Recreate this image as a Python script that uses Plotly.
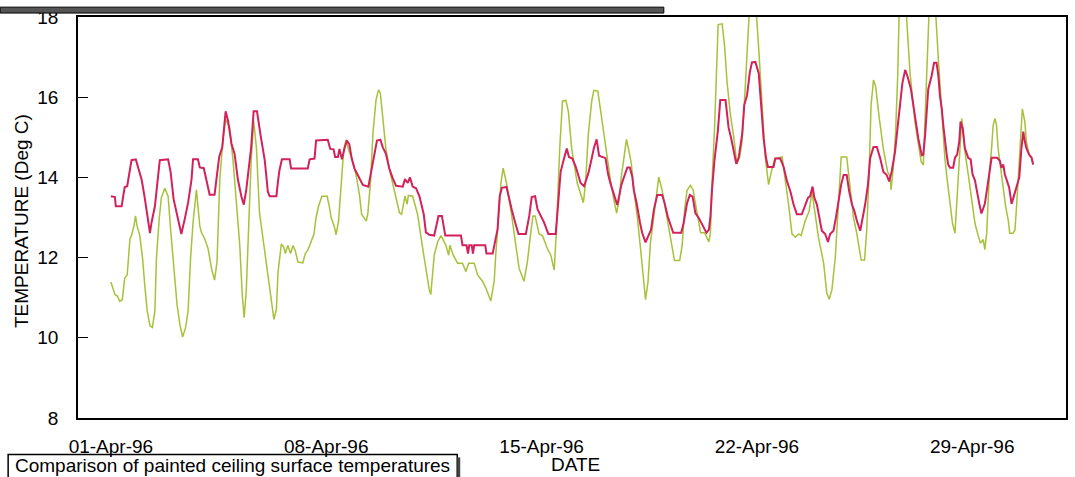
import pandas as pd
import plotly.graph_objects as go

# Hourly logger readings, April 1996: (days since 01-Apr-96 00:00, temperature in deg C)
START = pd.Timestamp("1996-04-01")

red_readings = [
    (0.00, 13.53), (0.13, 13.51), (0.16, 13.28), (0.35, 13.28), (0.40, 13.53), (0.45, 13.76),
    (0.53, 13.78), (0.59, 14.02), (0.67, 14.43), (0.81, 14.45), (0.89, 14.26), (1.00, 13.94),
    (1.10, 13.49), (1.19, 13.08), (1.27, 12.61), (1.32, 12.87), (1.43, 13.28), (1.50, 13.78),
    (1.59, 14.43), (1.86, 14.45), (1.94, 14.14), (2.04, 13.45), (2.18, 12.96), (2.29, 12.59),
    (2.40, 12.96), (2.51, 13.37), (2.62, 13.94), (2.67, 14.45), (2.83, 14.45), (2.89, 14.25),
    (3.02, 14.23), (3.10, 13.94), (3.21, 13.57), (3.37, 13.57), (3.43, 13.94), (3.52, 14.51),
    (3.62, 14.75), (3.73, 15.65), (3.81, 15.41), (3.92, 14.84), (4.02, 14.59), (4.13, 13.94),
    (4.24, 13.53), (4.32, 13.32), (4.40, 13.69), (4.49, 14.26), (4.56, 14.75), (4.64, 15.65),
    (4.75, 15.65), (4.86, 15.08), (5.00, 14.43),
    (5.05, 14.06), (5.10, 13.65), (5.16, 13.53), (5.38, 13.53), (5.43, 13.89), (5.48, 14.18),
    (5.56, 14.45), (5.81, 14.45), (5.86, 14.22), (6.40, 14.22), (6.46, 14.45), (6.62, 14.47),
    (6.67, 14.92), (7.05, 14.94), (7.13, 14.71), (7.24, 14.70), (7.29, 14.51), (7.38, 14.51),
    (7.43, 14.71), (7.51, 14.45), (7.59, 14.71), (7.67, 14.92), (7.75, 14.83), (7.83, 14.47),
    (7.92, 14.22), (8.05, 14.02), (8.19, 13.81), (8.37, 13.77), (8.46, 14.14), (8.57, 14.55),
    (8.65, 14.92), (8.76, 14.94), (8.84, 14.75), (8.94, 14.59), (9.05, 14.22), (9.16, 13.98),
    (9.27, 13.79), (9.49, 13.77), (9.56, 13.96), (9.65, 13.86), (9.72, 14.00), (9.81, 13.77),
    (9.92, 13.73), (10.03, 13.53), (10.17, 13.08), (10.24, 12.63), (10.35, 12.57),
    (10.51, 12.55), (10.59, 12.88), (10.65, 13.04), (10.76, 13.04), (10.87, 12.55), (11.38, 12.55),
    (11.43, 12.31), (11.56, 12.31), (11.61, 12.10), (11.65, 12.31), (11.73, 12.31), (11.77, 12.10),
    (11.81, 12.31), (12.17, 12.31), (12.21, 12.10), (12.41, 12.10), (12.49, 12.39), (12.57, 12.71),
    (12.64, 13.53), (12.71, 13.74), (12.86, 13.76), (12.92, 13.53), (13.03, 13.20), (13.14, 12.88),
    (13.25, 12.59), (13.49, 12.59), (13.60, 13.04), (13.68, 13.51), (13.79, 13.53), (13.87, 13.20),
    (13.97, 13.04), (14.08, 12.88), (14.22, 12.59), (14.46, 12.59), (14.55, 13.45), (14.62, 14.14),
    (14.73, 14.47), (14.82, 14.72), (14.89, 14.51), (15.00, 14.47), (15.11, 14.27), (15.27, 13.86),
    (15.38, 13.78), (15.52, 14.10), (15.63, 14.47), (15.70, 14.73),
    (15.79, 14.95), (15.87, 14.54), (16.08, 14.48), (16.16, 14.09), (16.24, 13.85), (16.33, 13.64),
    (16.41, 13.44), (16.46, 13.31), (16.52, 13.52), (16.59, 13.80), (16.68, 14.01), (16.79, 14.25),
    (16.87, 14.25), (16.95, 14.01), (17.00, 13.68), (17.09, 13.36), (17.20, 12.87), (17.27, 12.62),
    (17.38, 12.38), (17.46, 12.54), (17.56, 12.70), (17.65, 13.19), (17.76, 13.56), (17.92, 13.56),
    (18.00, 13.36), (18.10, 13.03), (18.21, 12.78), (18.28, 12.62), (18.54, 12.62), (18.62, 12.87),
    (18.73, 13.36), (18.82, 13.56), (18.91, 13.52), (19.00, 13.11), (19.11, 12.99), (19.19, 12.87),
    (19.27, 12.78), (19.36, 12.62), (19.44, 12.70), (19.49, 13.03), (19.54, 13.68), (19.62, 14.42),
    (19.73, 15.15), (19.81, 15.93), (19.98, 15.93), (20.03, 15.56), (20.08, 15.24), (20.16, 14.99),
    (20.25, 14.66), (20.33, 14.34), (20.41, 14.50), (20.52, 15.07), (20.59, 15.81), (20.68, 16.05),
    (20.77, 16.62), (20.84, 16.87), (20.95, 16.88),
    (21.06, 16.59), (21.14, 15.78), (21.22, 14.96), (21.30, 14.47), (21.36, 14.26), (21.54, 14.26),
    (21.60, 14.47), (21.76, 14.47), (21.87, 14.26), (21.98, 13.90), (22.09, 13.65), (22.19, 13.33),
    (22.30, 13.08), (22.46, 13.08), (22.57, 13.33), (22.66, 13.49), (22.73, 13.53), (22.81, 13.77),
    (22.87, 13.49), (22.95, 13.33), (23.03, 13.00), (23.11, 12.67), (23.22, 12.59), (23.31, 12.39),
    (23.38, 12.59), (23.49, 12.67), (23.57, 13.00), (23.65, 13.41), (23.74, 13.82), (23.82, 14.06),
    (23.92, 14.06), (24.00, 13.65), (24.09, 13.33), (24.17, 13.16), (24.25, 12.92), (24.36, 12.67),
    (24.43, 12.92), (24.52, 13.33), (24.61, 13.82), (24.68, 14.47), (24.79, 14.76), (24.90, 14.76),
    (25.01, 14.47), (25.11, 14.14), (25.22, 14.06), (25.30, 13.90), (25.38, 14.14), (25.44, 14.39),
    (25.49, 14.63), (25.58, 15.29), (25.65, 15.86), (25.73, 16.35), (25.82, 16.68), (25.90, 16.51),
    (26.01, 16.19), (26.12, 15.61), (26.25, 14.96), (26.36, 14.55),
    (26.41, 14.57), (26.47, 15.06), (26.52, 15.71), (26.57, 16.20), (26.68, 16.53), (26.76, 16.86),
    (26.84, 16.86), (26.90, 16.53), (26.95, 16.04), (27.01, 15.71), (27.06, 15.30), (27.11, 14.90),
    (27.17, 14.57), (27.22, 14.32), (27.28, 14.24), (27.38, 14.24), (27.44, 14.49), (27.51, 14.57),
    (27.58, 14.90), (27.62, 15.39), (27.69, 15.22), (27.76, 14.73), (27.87, 14.49), (27.95, 14.45),
    (28.01, 14.08), (28.09, 13.92), (28.16, 13.59), (28.23, 13.34), (28.30, 13.10), (28.36, 13.26),
    (28.41, 13.34), (28.49, 13.75), (28.57, 14.24), (28.63, 14.49), (28.81, 14.49), (28.90, 14.41),
    (28.95, 14.24), (29.01, 14.32), (29.06, 14.08), (29.12, 13.92), (29.20, 13.75), (29.28, 13.34),
    (29.35, 13.51), (29.44, 13.75), (29.53, 14.00), (29.60, 14.73), (29.66, 15.14), (29.71, 14.90),
    (29.76, 14.73), (29.85, 14.57), (29.93, 14.49), (29.98, 14.32),
]

green_readings = [
    (0.00, 11.39), (0.07, 11.24), (0.13, 11.08), (0.21, 11.04), (0.29, 10.91), (0.37, 10.95),
    (0.45, 11.49), (0.53, 11.57), (0.62, 12.47), (0.67, 12.55), (0.75, 12.79), (0.80, 13.04),
    (0.85, 12.79), (0.94, 12.55), (1.03, 11.98), (1.10, 11.32), (1.18, 10.67), (1.27, 10.30),
    (1.35, 10.26), (1.43, 10.67), (1.48, 11.98), (1.57, 12.96), (1.64, 13.49), (1.75, 13.73),
    (1.86, 13.53), (1.94, 12.71), (2.04, 11.81), (2.15, 10.83), (2.24, 10.34), (2.33, 10.02),
    (2.43, 10.26), (2.51, 10.67), (2.59, 11.98), (2.67, 12.87), (2.78, 13.69), (2.89, 12.79),
    (2.94, 12.63), (3.05, 12.47), (3.16, 12.22), (3.27, 11.73), (3.37, 11.44), (3.45, 11.89),
    (3.54, 13.94), (3.64, 14.92), (3.73, 15.45), (3.86, 15.24), (3.97, 14.43), (4.08, 13.45),
    (4.19, 12.30), (4.27, 11.08), (4.33, 10.50), (4.40, 11.16), (4.49, 12.96), (4.56, 14.43),
    (4.64, 15.41), (4.73, 14.75), (4.83, 13.12), (5.00, 12.20), (5.16, 11.30), (5.30, 10.46),
    (5.38, 10.71), (5.43, 11.61), (5.54, 12.34), (5.62, 12.26), (5.67, 12.10), (5.75, 12.30),
    (5.84, 12.10), (5.92, 12.30), (5.99, 12.18), (6.08, 11.89), (6.24, 11.87), (6.32, 12.10),
    (6.40, 12.18), (6.51, 12.42), (6.60, 12.58), (6.67, 13.00), (6.75, 13.28), (6.86, 13.53),
    (7.03, 13.53), (7.11, 13.24), (7.16, 13.00), (7.27, 12.75), (7.32, 12.57), (7.40, 12.91),
    (7.48, 13.89), (7.57, 14.71), (7.65, 14.94), (7.72, 14.71), (7.83, 14.47), (7.97, 14.06),
    (8.08, 13.57), (8.15, 13.08), (8.30, 12.91), (8.35, 13.08), (8.44, 13.89), (8.52, 15.12),
    (8.62, 15.94), (8.70, 16.18), (8.76, 16.10), (8.84, 15.53), (8.94, 14.71), (9.05, 14.22),
    (9.21, 13.65), (9.38, 13.12), (9.45, 13.08), (9.56, 13.53), (9.63, 13.33), (9.67, 13.55),
    (9.81, 13.53), (9.97, 13.08), (10.13, 12.26), (10.35, 11.20), (10.40, 11.08),
    (10.51, 12.06), (10.62, 12.39), (10.73, 12.55), (10.89, 12.31), (10.98, 12.06), (11.02, 12.31),
    (11.13, 12.06), (11.27, 11.86), (11.43, 11.86), (11.54, 11.65), (11.63, 11.86), (11.81, 11.86),
    (11.92, 11.57), (12.08, 11.41), (12.19, 11.24), (12.35, 10.92), (12.46, 11.41), (12.51, 12.06),
    (12.60, 13.04), (12.68, 13.86), (12.75, 14.23), (12.86, 13.86), (13.00, 13.20), (13.14, 12.47),
    (13.27, 11.73), (13.43, 11.41), (13.54, 11.90), (13.65, 12.63), (13.72, 13.04), (13.79, 13.04),
    (13.92, 12.59), (14.03, 12.55), (14.19, 12.22), (14.30, 12.06), (14.41, 11.69), (14.48, 12.63),
    (14.59, 14.71), (14.68, 15.90), (14.79, 15.92), (14.87, 15.65), (14.98, 14.71), (15.16, 13.86),
    (15.30, 13.49), (15.36, 13.37), (15.43, 13.86), (15.52, 15.08), (15.63, 15.90),
    (15.70, 16.17), (15.83, 16.15), (15.92, 15.64), (16.03, 14.99), (16.14, 14.42), (16.24, 13.93),
    (16.35, 13.44), (16.44, 13.11), (16.52, 13.44), (16.59, 14.01), (16.68, 14.50), (16.76, 14.95),
    (16.84, 14.66), (16.92, 14.34), (17.00, 13.68), (17.11, 13.03), (17.22, 12.21), (17.30, 11.56),
    (17.38, 10.95), (17.46, 11.39), (17.54, 12.38), (17.65, 13.03), (17.74, 13.52), (17.81, 14.01),
    (17.92, 13.68), (18.03, 13.19), (18.14, 12.70), (18.25, 12.29), (18.32, 11.93), (18.49, 11.93),
    (18.57, 12.29), (18.65, 13.19), (18.73, 13.68), (18.84, 13.80), (18.93, 13.68), (19.00, 13.36),
    (19.08, 13.03), (19.17, 12.62), (19.30, 12.62), (19.44, 12.39), (19.49, 12.62), (19.54, 13.85),
    (19.62, 15.15), (19.68, 16.62), (19.74, 17.81), (19.87, 17.83), (19.95, 17.28), (20.03, 16.38),
    (20.14, 15.56), (20.25, 14.99), (20.35, 14.34), (20.44, 14.50), (20.52, 14.91), (20.59, 15.81),
    (20.68, 17.03), (20.74, 18.00), (20.80, 18.80), (20.92, 18.80), (21.00, 18.00),
    (21.06, 17.20), (21.27, 14.51), (21.38, 13.82), (21.47, 14.14), (21.58, 14.47), (21.82, 14.51),
    (21.92, 13.98), (22.03, 13.33), (22.14, 12.59), (22.25, 12.51), (22.36, 12.59), (22.44, 12.55),
    (22.57, 12.92), (22.70, 13.16), (22.79, 13.65), (22.87, 13.16), (23.00, 12.51), (23.17, 11.86),
    (23.27, 11.12), (23.35, 10.96), (23.44, 11.20), (23.55, 12.02), (23.65, 13.33), (23.74, 14.51),
    (23.92, 14.51), (24.00, 13.98), (24.14, 13.00), (24.25, 12.59), (24.39, 11.94), (24.50, 11.94),
    (24.57, 12.67), (24.65, 14.14), (24.71, 15.78), (24.79, 16.43), (24.86, 16.27), (24.97, 15.53),
    (25.11, 14.72), (25.25, 14.14), (25.33, 14.02), (25.36, 13.69), (25.44, 14.31), (25.51, 15.12),
    (25.58, 16.59), (25.62, 17.98), (25.68, 18.80), (25.80, 18.80), (25.87, 18.00), (25.98, 16.59),
    (26.14, 15.37), (26.34, 14.39), (26.41, 14.31),
    (26.50, 16.12), (26.57, 18.00), (26.62, 18.60), (26.74, 18.60), (26.82, 18.00), (26.90, 16.94),
    (27.01, 15.71), (27.11, 14.49), (27.19, 13.92), (27.28, 13.26), (27.36, 12.85), (27.44, 12.61),
    (27.49, 13.26), (27.55, 14.24), (27.60, 14.90), (27.66, 15.47), (27.71, 15.14), (27.76, 14.65),
    (27.87, 14.08), (27.95, 13.59), (28.01, 13.26), (28.09, 12.85), (28.20, 12.53), (28.27, 12.36),
    (28.36, 12.45), (28.41, 12.20), (28.47, 12.61), (28.52, 13.43), (28.57, 14.24), (28.63, 14.73),
    (28.68, 15.30), (28.74, 15.47), (28.79, 15.30), (28.84, 14.73), (28.92, 14.24), (29.01, 13.75),
    (29.09, 13.26), (29.17, 12.94), (29.22, 12.61), (29.33, 12.61), (29.39, 12.69), (29.44, 13.26),
    (29.49, 13.92), (29.55, 14.73), (29.60, 15.47), (29.63, 15.71), (29.71, 15.39), (29.76, 14.90),
    (29.85, 14.57), (29.93, 14.49), (29.98, 14.32),
]

tick_dates = ["1996-04-01", "1996-04-08", "1996-04-15", "1996-04-22", "1996-04-29"]
tick_labels = ["01-Apr-96", "08-Apr-96", "15-Apr-96", "22-Apr-96", "29-Apr-96"]
y_ticks = [8, 10, 12, 14, 16, 18]

RED = "#d2215b"
GREEN = "#a6c23a"
FONT = "Liberation Sans, Arial, sans-serif"

W, H = 1075, 477
L, R, T, B = 78, 7, 11, 59
PW, PH = W - L - R, H - T - B


def series(readings):
    days, temps = zip(*readings)
    return START + pd.to_timedelta(list(days), unit="D"), list(temps)


def px(x):
    return (x - L) / PW


def py(y):
    return (H - B - y) / PH


gx, gy = series(green_readings)
rx, ry = series(red_readings)

fig = go.Figure()
fig.add_trace(go.Scatter(x=gx, y=gy, mode="lines", line=dict(color=GREEN, width=1.5),
                         showlegend=False, hoverinfo="skip"))
fig.add_trace(go.Scatter(x=rx, y=ry, mode="lines", line=dict(color=RED, width=2),
                         showlegend=False, hoverinfo="skip"))

fig.update_layout(
    width=W, height=H,
    margin=dict(l=L, r=R, t=T, b=B, pad=0),
    paper_bgcolor="white", plot_bgcolor="white",
    font=dict(family=FONT, size=19, color="black"),
    xaxis=dict(
        type="date",
        range=["1996-03-30 22:20", "1996-05-02 01:10"],
        tickvals=tick_dates, ticktext=tick_labels,
        ticks="", showgrid=False, zeroline=False,
        showline=True, mirror=True, linecolor="black", linewidth=1.5,
        tickfont=dict(family=FONT, size=19, color="black"),
        ticklabelstandoff=10,
    ),
    yaxis=dict(
        range=[8, 18],
        tickvals=y_ticks,
        ticks="inside", ticklen=10, tickwidth=1.2, tickcolor="black",
        showgrid=False, zeroline=False,
        showline=True, mirror=True, linecolor="black", linewidth=1.5,
        tickfont=dict(family=FONT, size=19, color="black"),
        ticklabelstandoff=14,
    ),
)

annotations = [
    dict(text="TEMPERATURE (Deg C)", textangle=-90, x=px(22), y=py(218),
         xanchor="center", yanchor="middle", size=19),
    dict(text="DATE", x=px(577), y=py(465), xanchor="center", yanchor="middle", size=19),
    dict(text="Comparison of painted ceiling surface temperatures", x=px(13), y=py(466),
         xanchor="left", yanchor="middle", size=19),
]
for a in annotations:
    size = a.pop("size")
    a.update(xref="paper", yref="paper", showarrow=False,
             font=dict(family=FONT, size=size, color="black"))
fig.update_layout(annotations=annotations)

fig.update_layout(shapes=[
    # caption frame with its drop shadow
    dict(type="rect", xref="paper", yref="paper", x0=px(8), x1=px(458), y0=py(455), y1=py(495),
         line=dict(color="black", width=1.5), fillcolor="rgba(0,0,0,0)", layer="below"),
    dict(type="rect", xref="paper", yref="paper", x0=px(458), x1=px(461), y0=py(458), y1=py(495),
         line=dict(width=0), fillcolor="#444444"),
    # edge of the heading panel above the chart
    dict(type="rect", xref="paper", yref="paper", x0=px(0), x1=px(665), y0=py(7), y1=py(1),
         line=dict(color="black", width=1), fillcolor="#555555"),
])

fig.write_html("out.html")
